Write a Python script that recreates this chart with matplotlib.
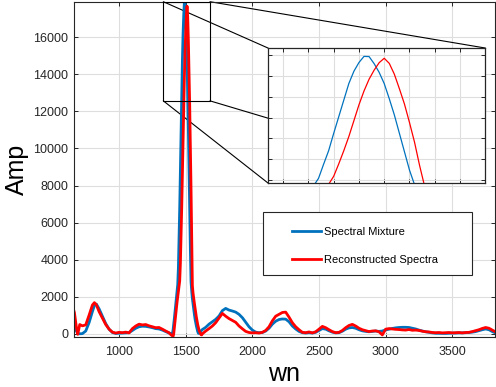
import numpy as np
import matplotlib
matplotlib.use("Agg")
import matplotlib.pyplot as plt
from matplotlib.patches import Rectangle, ConnectionPatch

# === DATA ===
wn = [650, 665, 680, 690, 705, 725, 750, 775, 800, 815, 830, 850, 875, 900, 925, 950, 975,
      1000, 1025, 1050, 1075, 1100, 1125, 1150, 1175, 1200, 1225, 1250, 1275, 1300, 1325,
      1350, 1375, 1390,
      1395, 1400, 1405, 1410, 1415, 1420, 1425, 1430, 1435, 1440, 1445, 1450, 1455, 1460,
      1465, 1470, 1475, 1480, 1485, 1490, 1495, 1500, 1505, 1510, 1515, 1520, 1525, 1530,
      1535, 1540, 1545, 1550, 1555, 1560, 1565, 1570, 1575, 1580, 1585, 1590, 1595, 1600,
      1605, 1610, 1615, 1620, 1625,
      1650, 1675, 1700, 1725, 1750, 1775, 1800, 1825, 1850, 1875, 1900, 1925, 1950, 1975,
      2000, 2025, 2050, 2075, 2100, 2125, 2150, 2175, 2200, 2225, 2250, 2275, 2300, 2325,
      2350, 2375, 2400, 2425, 2450, 2475, 2500, 2525, 2550, 2575, 2600, 2625, 2650, 2675,
      2700, 2725, 2750, 2775, 2800, 2825, 2850, 2875, 2900, 2925, 2950, 2975, 3000, 3025,
      3050, 3075, 3100, 3125, 3150, 3175, 3200, 3225, 3250, 3275, 3300, 3325, 3350, 3375,
      3400, 3425, 3450, 3475, 3500, 3525, 3550, 3575, 3600, 3625, 3650, 3675, 3700, 3725,
      3750, 3775, 3800, 3825]

mixture = [650, 500, 150, 20, 0, 10, 150, 600, 1200, 1520, 1600, 1350, 950, 550, 250, 70, 20,
           30, 40, 50, 60, 180, 300, 380, 410, 400, 370, 330, 280, 260, 200,
           120, 40, 10,
           20, 0, 200, 500, 850, 1200, 1550, 1900, 2250, 2650, 3550, 5200, 6800, 8840,
           10790, 12750, 14710, 16150, 17180, 17900, 17880, 17050, 16020, 14700, 12920, 11020, 8850, 6680,
           4520, 2800, 2300, 1900, 1600, 1300, 1050, 800, 600, 420, 260, 120, 30, 20,
           60, 100, 150, 200, 230,
           350, 520, 650, 780, 960, 1250, 1370, 1280, 1230, 1170, 1050, 870, 620, 380,
           200, 90, 60, 70, 150, 300, 520, 680, 770, 800, 790, 650, 420, 260,
           130, 60, 40, 60, 40, 80, 180, 280, 250, 160, 90, 50, 60, 140,
           250, 320, 340, 300, 220, 160, 130, 110, 130, 150, 130, 150, 210, 250,
           290, 320, 340, 350, 350, 340, 300, 260, 200, 150, 110, 80, 50, 30,
           25, 25, 20, 30, 40, 40, 50, 50, 60, 70, 90, 120, 170, 220,
           260, 220, 120, 40]

reconstructed = [1500, 1150, 350, -30, 500, 430, 480, 1000, 1550, 1680, 1560, 1200, 850, 500, 250, 90, 40,
                 80, 60, 90, 50, 280, 420, 520, 480, 500, 430, 380, 330, 340, 250,
                 150, 60, -60,
                 -80, -100, -150, 0, 350, 700, 1000, 1350, 1700, 2000, 2350, 2650, 2850, 3790,
                 5250, 6800, 8470, 10330, 12200, 13830, 15210, 16280, 17160, 17680, 17080, 15810, 14100, 12300,
                 10120, 7800, 5060, 2600, 2200, 1900, 1650, 1400, 1150, 900, 700, 500, 350, 200,
                 100, 20, -50, -60, 0,
                 150, 280, 420, 600, 850, 1100, 950, 820, 720, 620, 420, 270, 130, 70,
                 50, 60, 40, 80, 180, 380, 700, 950, 1050, 1150, 1170, 900, 600, 380,
                 220, 80, 60, 100, 50, 110, 250, 400, 330, 220, 120, 60, 80, 180,
                 330, 450, 510, 420, 300, 220, 170, 120, 150, 160, 110, -60, 250, 280,
                 260, 240, 230, 210, 200, 230, 190, 200, 180, 140, 110, 100, 70, 60,
                 70, 50, 60, 70, 50, 60, 70, 50, 70, 80, 120, 170, 220, 290,
                 340, 300, 200, 100]

labels = ["Spectral Mixture", "Reconstructed Spectra"]
colors = ["#0072BD", "#FF0000"]

GRAY = "#262626"
plt.rcParams["font.family"] = ["Liberation Sans", "DejaVu Sans"]

fig = plt.figure(figsize=(4.96, 3.87), dpi=100)
ax = fig.add_axes([0.1492, 0.1300, 0.8482, 0.8656])

ax.plot(wn, mixture, color=colors[0], lw=2.0, label=labels[0])
ax.plot(wn, reconstructed, color=colors[1], lw=2.0, label=labels[1])

ax.set_xlim(662, 3818)
ax.set_ylim(-156, 17920)
ax.set_xticks([1000, 1500, 2000, 2500, 3000, 3500])
ax.set_yticks(np.arange(0, 16001, 2000))
ax.grid(True, color="#dedede", lw=0.8)
ax.set_axisbelow(True)
ax.tick_params(direction="in", top=True, right=True, length=3, width=0.7,
               color=GRAY, labelcolor=GRAY, labelsize=9)
ax.tick_params(axis="x", pad=7)
ax.tick_params(axis="y", pad=4)
for sp in ax.spines.values():
    sp.set_color(GRAY)
    sp.set_linewidth(0.8)

ax.set_xlabel("wn", fontsize=18)
ax.set_ylabel("Amp", fontsize=18)
ax.xaxis.set_label_coords(0.5, -0.075)
ax.yaxis.set_label_coords(-0.108, 0.5)

# legend box drawn by hand, legend entries inside it
ax.add_patch(Rectangle((0.4485, 0.1842), 0.4968, 0.1871, transform=ax.transAxes,
                       facecolor="white", edgecolor=GRAY, lw=0.8, zorder=5))
ax.legend(loc="upper left", bbox_to_anchor=(0.5175, 0.327), frameon=False,
          fontsize=8, borderpad=0, borderaxespad=0, handlelength=2.6,
          handletextpad=0.3, labelspacing=1.6).set_zorder(6)

# zoom rectangle + connectors
rx0, rx1, ry0, ry1 = 1332, 1682, 12570, 17920
ax.add_patch(Rectangle((rx0, ry0), rx1 - rx0, ry1 - ry0, fill=False,
                       edgecolor="black", lw=0.8, zorder=4))

axin = fig.add_axes([0.5403, 0.5271, 0.4381, 0.3488])
for (px, py), (qx, qy) in [((rx0, ry1), (0, 1)), ((rx1, ry1), (1, 1)),
                           ((rx0, ry0), (0, 0)), ((rx1, ry0), (1, 0))]:
    con = ConnectionPatch(xyA=(px, py), coordsA=ax.transData,
                          xyB=(qx, qy), coordsB=axin.transAxes,
                          color="black", lw=0.8)
    ax.add_artist(con)

axin.set_facecolor("white")
axin.plot(wn, mixture, color=colors[0], lw=0.9)
axin.plot(wn, reconstructed, color=colors[1], lw=0.9)
axin.set_xlim(1395, 1610)
axin.set_ylim(3000, 18885)
axin.set_xticks(np.arange(1410, 1611, 25))
axin.set_yticks(np.arange(3350, 18885, 2450))
axin.set_xticklabels([])
axin.set_yticklabels([])
axin.grid(True, color="#dedede", lw=0.8)
axin.set_axisbelow(True)
axin.tick_params(direction="in", top=True, right=True, length=3, width=0.7, color=GRAY)
for sp in axin.spines.values():
    sp.set_color(GRAY)
    sp.set_linewidth(0.9)

fig.savefig("out.png", dpi=100)
